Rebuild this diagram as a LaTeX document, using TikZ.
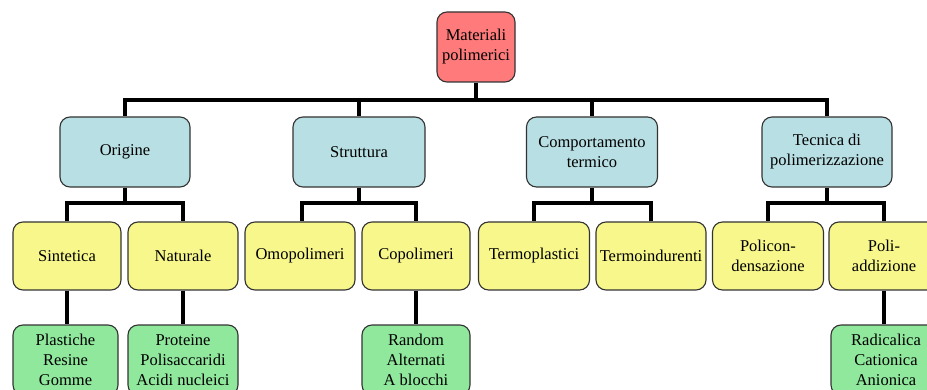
\documentclass[tikz,border=0pt]{standalone}
\usepackage{fontspec}
\setmainfont{Liberation Serif}
\definecolor{rootc}{HTML}{FF7A7A}
\definecolor{lvla}{HTML}{B8DFE3}
\definecolor{lvlb}{HTML}{F7F78C}
\definecolor{lvlc}{HTML}{8FE89C}
\definecolor{edgec}{HTML}{333333}
\tikzset{
  box/.style={draw=edgec, line width=1.1pt, rounded corners=10pt, align=center,
    inner sep=1pt, font=\fontsize{16.5}{20}\selectfont},
  rootbox/.style={box, fill=rootc, minimum width=78pt, minimum height=70pt},
  boxa/.style={box, fill=lvla, minimum width=130pt, minimum height=70pt},
  boxb/.style={box, fill=lvlb, minimum width=109pt, minimum height=68pt},
  boxc/.style={box, fill=lvlc, minimum width=108pt, minimum height=70pt},
  conn/.style={line width=3.6pt, black},
}
\begin{document}
\begin{tikzpicture}[x=1pt, y=-1pt]
\useasboundingbox (0,0) rectangle (927,390);
\clip (0,0) rectangle (927,390);
% bus coordinates
\coordinate (bus) at (476,100);
\coordinate (busA) at (125,203);
\coordinate (busB) at (359,203);
\coordinate (busC) at (592,203);
\coordinate (busD) at (827,203);

% nodes
\node[rootbox] (root) at (476,47) {Materiali\\polimerici};

\node[boxa] (orig) at (125,152) {Origine};
\node[boxa, minimum width=132pt] (strut) at (359,152) {Struttura};
\node[boxa, minimum width=131pt] (comp) at (592,152) {Comportamento\\termico};
\node[boxa] (tecn) at (827,152) {Tecnica di\\polimerizzazione};

\node[boxb, minimum width=108pt] (sint) at (67,256) {Sintetica};
\node[boxb, minimum width=110pt] (nat) at (183,256) {Naturale};
\node[boxb, minimum width=110pt] (omo) at (300,256) {Omopolimeri};
\node[boxb, minimum width=108pt] (copo) at (416,256) {Copolimeri};
\node[boxb, minimum width=111pt] (tplast) at (534,256) {Termoplastici};
\node[boxb, minimum width=110pt] (tind) at (651,256) {Termoindurenti};
\node[boxb, minimum width=111pt] (polic) at (768,256) {Policon-\\densazione};
\node[boxb, minimum width=110pt] (polia) at (884,256) {Poli-\\addizione};

\node[boxc, minimum width=105pt] (plast) at (65.5,360) {Plastiche\\Resine\\Gomme};
\node[boxc, minimum width=110pt] (prot) at (183,360) {Proteine\\Polisaccaridi\\Acidi nucleici};
\node[boxc, minimum width=108pt] (rand) at (416,360) {Random\\Alternati\\A blocchi};
\node[boxc, minimum width=110pt] (radi) at (886,360) {Radicalica\\Cationica\\Anionica};

% level 0 -> 1
\draw[conn] (root.south) -- (bus);
\draw[conn] (bus) -| (orig.north);
\draw[conn] (bus) -| (strut.north);
\draw[conn] (bus) -| (comp.north);
\draw[conn] (bus) -| (tecn.north);
% level 1 -> 2
\draw[conn] (orig.south) -- (busA);
\draw[conn] (busA) -| (sint.north);
\draw[conn] (busA) -| (nat.north);
\draw[conn] (strut.south) -- (busB);
\draw[conn] (busB) -| ([xshift=2pt]omo.north);
\draw[conn] (busB) -| (copo.north);
\draw[conn] (comp.south) -- (busC);
\draw[conn] (busC) -| (tplast.north);
\draw[conn] (busC) -| (tind.north);
\draw[conn] (tecn.south) -- (busD);
\draw[conn] (busD) -| (polic.north);
\draw[conn] (busD) -| (polia.north);
% level 2 -> 3
\draw[conn] (sint.south) -- (sint.south |- plast.north);
\draw[conn] (nat.south) -- (prot.north);
\draw[conn] (copo.south) -- (rand.north);
\draw[conn] (polia.south) -- (polia.south |- radi.north);
\end{tikzpicture}
\end{document}
